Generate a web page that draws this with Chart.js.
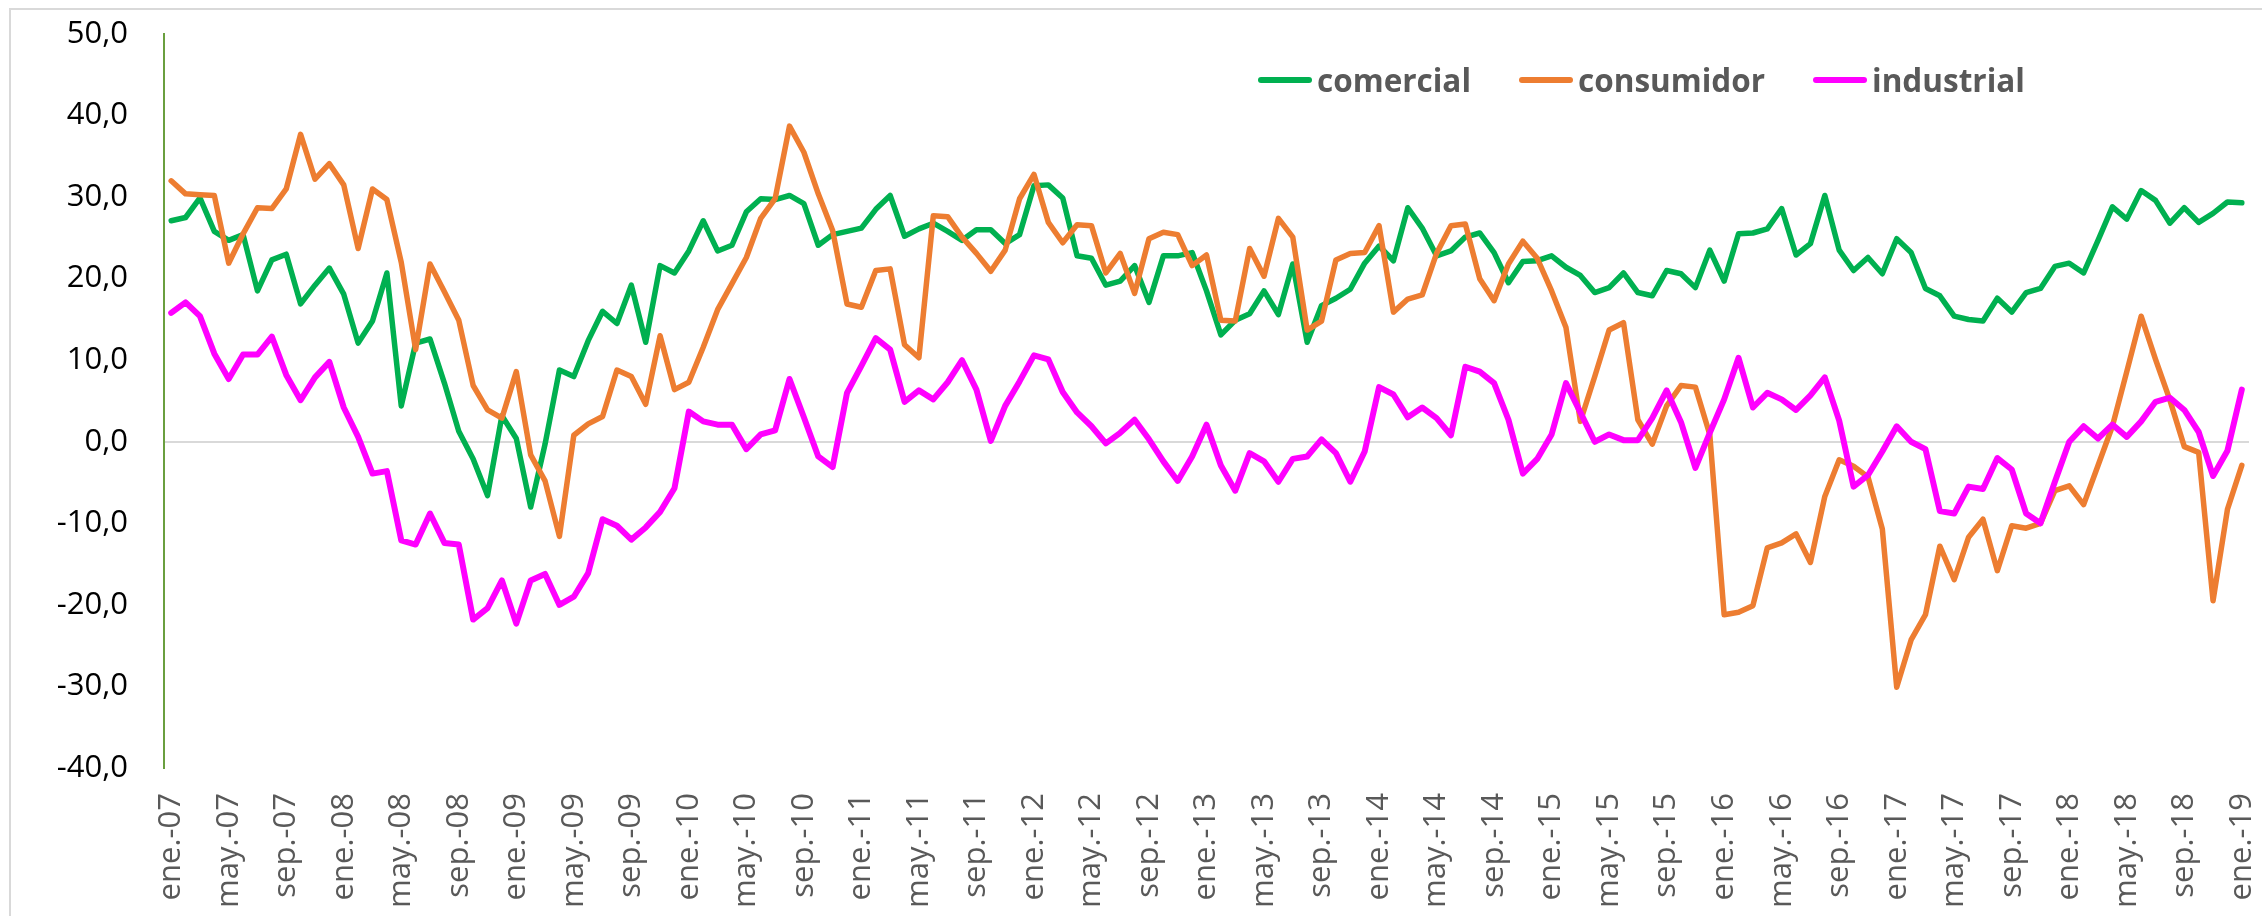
<!DOCTYPE html>
<html>
<head>
<meta charset="utf-8">
<script src="https://cdn.jsdelivr.net/npm/chart.js@4.4.1/dist/chart.umd.min.js"></script>
<style>
	html, body { margin: 0; padding: 0; background: #fff; overflow: hidden; }
	#wrap { position: relative; width: 2262px; height: 916px; }
	#frame {
		position: absolute; left: 9px; top: 8px; width: 2300px; height: 1000px;
		border-left: 2px solid #d9d9d9; border-top: 2px solid #d9d9d9;
	}
	#chart { position: absolute; left: 0; top: 0; }
	#legend {
		position: absolute; left: 1258px; top: 58px; display: flex; align-items: center;
		font-family: "Open Sans", sans-serif; font-weight: bold; font-size: 31.5px; color: #595959;
	}
	.item { display: flex; align-items: center; margin-right: 48px; }
	.swatch { width: 54px; height: 6px; border-radius: 3px; margin-right: 5px; }
</style>
</head>
<body>
<div id="wrap">
	<div id="frame"></div>
	<canvas id="chart" width="2262" height="916"></canvas>
	<div id="legend"></div>
</div>
<script>
// Month abbreviations used for the category labels (ene.-07 ... ene.-19)
const monthNames = ["ene.", "feb.", "mar.", "abr.", "may.", "jun.", "jul.", "ago.", "sep.", "oct.", "nov.", "dic."];
const years = ["07", "08", "09", "10", "11", "12", "13", "14", "15", "16", "17", "18", "19"];

const seriesNames = ["comercial", "consumidor", "industrial"];
const seriesColors = ["#00b050", "#ed7d31", "#ff00ff"];

const comercial = [
	27.1, 27.5, 29.9, 25.8, 24.7, 25.4, 18.5, 22.3, 23.0, 16.9, 19.2, 21.3,
	18.1, 12.1, 14.8, 20.7, 4.4, 12.1, 12.6, 7.2, 1.3, -2.1, -6.6, 3.2,
	0.4, -8.0, -0.3, 8.8, 8.0, 12.4, 16.0, 14.5, 19.2, 12.2, 21.6, 20.7,
	23.4, 27.1, 23.4, 24.1, 28.2, 29.8, 29.7, 30.2, 29.2, 24.1, 25.4, 25.8,
	26.2, 28.5, 30.2, 25.2, 26.1, 26.8, 25.8, 24.7, 26.0, 26.0, 24.3, 25.4,
	31.4, 31.5, 29.9, 22.8, 22.5, 19.2, 19.7, 21.6, 17.1, 22.8, 22.8, 23.2,
	18.5, 13.1, 14.9, 15.7, 18.5, 15.6, 21.8, 12.2, 16.7, 17.6, 18.7, 21.9,
	24.0, 22.2, 28.7, 26.2, 22.8, 23.4, 25.1, 25.6, 23.2, 19.5, 22.1, 22.2,
	22.8, 21.4, 20.4, 18.3, 18.9, 20.7, 18.3, 17.9, 21.0, 20.6, 18.9, 23.5,
	19.7, 25.5, 25.6, 26.1, 28.6, 22.9, 24.3, 30.2, 23.5, 21.0, 22.6, 20.6,
	24.9, 23.2, 18.8, 17.9, 15.4, 15.0, 14.8, 17.6, 15.9, 18.3, 18.8, 21.5,
	21.9, 20.7, 24.7, 28.8, 27.3, 30.8, 29.6, 26.8, 28.7, 26.9, 28.0, 29.4,
	29.3,
];

const consumidor = [
	32.0, 30.4, 30.3, 30.2, 21.9, 25.5, 28.7, 28.6, 31.0, 37.7, 32.2, 34.1,
	31.5, 23.7, 31.0, 29.7, 22.0, 11.3, 21.8, 18.4, 14.9, 6.9, 3.9, 2.9,
	8.6, -1.6, -4.8, -11.6, 0.8, 2.2, 3.1, 8.8, 8.0, 4.6, 13.0, 6.4,
	7.3, 11.6, 16.2, 19.4, 22.6, 27.4, 29.8, 38.7, 35.5, 30.4, 25.9, 16.9,
	16.5, 21.0, 21.2, 11.9, 10.3, 27.7, 27.6, 25.1, 23.1, 20.9, 23.5, 29.8,
	32.8, 26.9, 24.4, 26.6, 26.5, 20.7, 23.1, 18.2, 24.9, 25.7, 25.4, 21.6,
	22.9, 14.9, 14.8, 23.7, 20.3, 27.4, 25.1, 13.7, 14.8, 22.3, 23.1, 23.2,
	26.5, 15.9, 17.5, 18.0, 23.1, 26.5, 26.7, 20.0, 17.3, 21.8, 24.6, 22.5,
	18.5, 14.0, 2.5, 8.0, 13.7, 14.6, 2.7, -0.3, 4.4, 6.9, 6.7, 0.9,
	-21.2, -20.9, -20.1, -13.0, -12.4, -11.3, -14.8, -6.7, -2.2, -3.0, -4.3, -10.7,
	-30.1, -24.3, -21.2, -12.8, -16.9, -11.7, -9.5, -15.8, -10.3, -10.6, -10.0, -6.0,
	-5.4, -7.7, -2.9, 1.9, 8.6, 15.4, 10.1, 5.1, -0.6, -1.3, -19.5, -8.3,
	-2.9,
];

const industrial = [
	15.8, 17.1, 15.4, 10.8, 7.7, 10.7, 10.7, 12.9, 8.2, 5.1, 7.9, 9.8,
	4.2, 0.6, -3.9, -3.6, -12.1, -12.6, -8.8, -12.4, -12.6, -21.8, -20.4, -17.0,
	-22.3, -17.0, -16.2, -20.0, -19.0, -16.1, -9.5, -10.3, -12.0, -10.5, -8.6, -5.7,
	3.7, 2.5, 2.1, 2.1, -0.9, 0.9, 1.4, 7.7, 3.0, -1.8, -3.1, 6.0,
	9.3, 12.7, 11.3, 4.9, 6.3, 5.2, 7.3, 10.0, 6.4, 0.1, 4.4, 7.4,
	10.6, 10.1, 6.1, 3.6, 1.9, -0.2, 1.1, 2.7, 0.3, -2.4, -4.8, -1.8,
	2.1, -2.9, -6.0, -1.4, -2.4, -4.9, -2.1, -1.8, 0.3, -1.4, -4.9, -1.2,
	6.7, 5.8, 3.0, 4.2, 2.9, 0.8, 9.2, 8.6, 7.2, 2.7, -3.9, -2.1,
	0.9, 7.2, 3.6, 0.0, 0.9, 0.2, 0.2, 2.9, 6.3, 2.4, -3.2, 1.1,
	5.2, 10.3, 4.2, 6.0, 5.2, 3.9, 5.7, 7.9, 2.6, -5.5, -4.1, -1.2,
	1.9, 0.0, -0.9, -8.5, -8.8, -5.5, -5.8, -2.0, -3.4, -8.8, -10.0, -4.9,
	0.0, 1.9, 0.4, 2.1, 0.6, 2.5, 4.9, 5.4, 3.9, 1.2, -4.2, -1.1,
	6.4,
];

// Build category labels: every month from ene.-07 to ene.-19
const categories = [];
years.forEach((yy, yi) => {
	monthNames.forEach((m, mi) => {
		if (yi === years.length - 1 && mi > 0) return;
		categories.push(m + "-" + yy);
	});
});

const tickFont = { family: "'Open Sans', sans-serif", size: 31 };

const ctx = document.getElementById("chart").getContext("2d");
const chart = new Chart(ctx, {
	type: "line",
	data: {
		labels: categories,
		datasets: [comercial, consumidor, industrial].map((values, i) => ({
			label: seriesNames[i],
			data: values,
			borderColor: seriesColors[i],
			backgroundColor: seriesColors[i],
			borderWidth: i === 2 ? 6 : 5.5,
			pointRadius: 0,
			tension: 0,
			borderJoinStyle: "round",
			borderCapStyle: "round",
			order: 3 - i, // last series on top, like the original
		})),
	},
	options: {
		responsive: false,
		animation: false,
		devicePixelRatio: 1,
		layout: { padding: { top: 34, right: 13, left: 0, bottom: 0 } },
		plugins: {
			legend: { display: false },
			tooltip: { enabled: false },
		},
		scales: {
			x: {
				type: "category",
				offset: true,
				grid: { display: false, drawTicks: false },
				border: { display: false },
				ticks: {
					autoSkip: false,
					maxRotation: 90,
					minRotation: 90,
					padding: 25,
					color: "#595959",
					font: tickFont,
					callback: function (value, index) {
						return index % 4 === 0 ? this.getLabelForValue(value) : null;
					},
				},
				// fixed axis height, no extra side padding for the rotated labels
				afterFit: (scale) => {
					scale.height = 148;
					scale.paddingLeft = 0;
					scale.paddingRight = 0;
				},
			},
			y: {
				min: -40,
				max: 50,
				grid: {
					drawTicks: false,
					lineWidth: 2,
					color: (c) => (c.tick && c.tick.value === 0 ? "#d9d9d9" : "rgba(0,0,0,0)"),
				},
				border: { color: "#6a9f3f", width: 2 },
				ticks: {
					stepSize: 10,
					padding: 36,
					color: "#000",
					font: tickFont,
					callback: (v) => v.toFixed(1).replace(".", ","),
				},
				afterFit: (scale) => {
					scale.width = 164;
					scale.paddingTop = 0;
					scale.paddingBottom = 0;
				},
			},
		},
	},
});

// Legend drawn as HTML, placed inside the plot area like the original
const legendEl = document.getElementById("legend");
chart.data.datasets.forEach((ds) => {
	const item = document.createElement("div");
	item.className = "item";
	const sw = document.createElement("span");
	sw.className = "swatch";
	sw.style.background = ds.borderColor;
	const txt = document.createElement("span");
	txt.textContent = ds.label;
	item.appendChild(sw);
	item.appendChild(txt);
	legendEl.appendChild(item);
});
</script>
</body>
</html>
